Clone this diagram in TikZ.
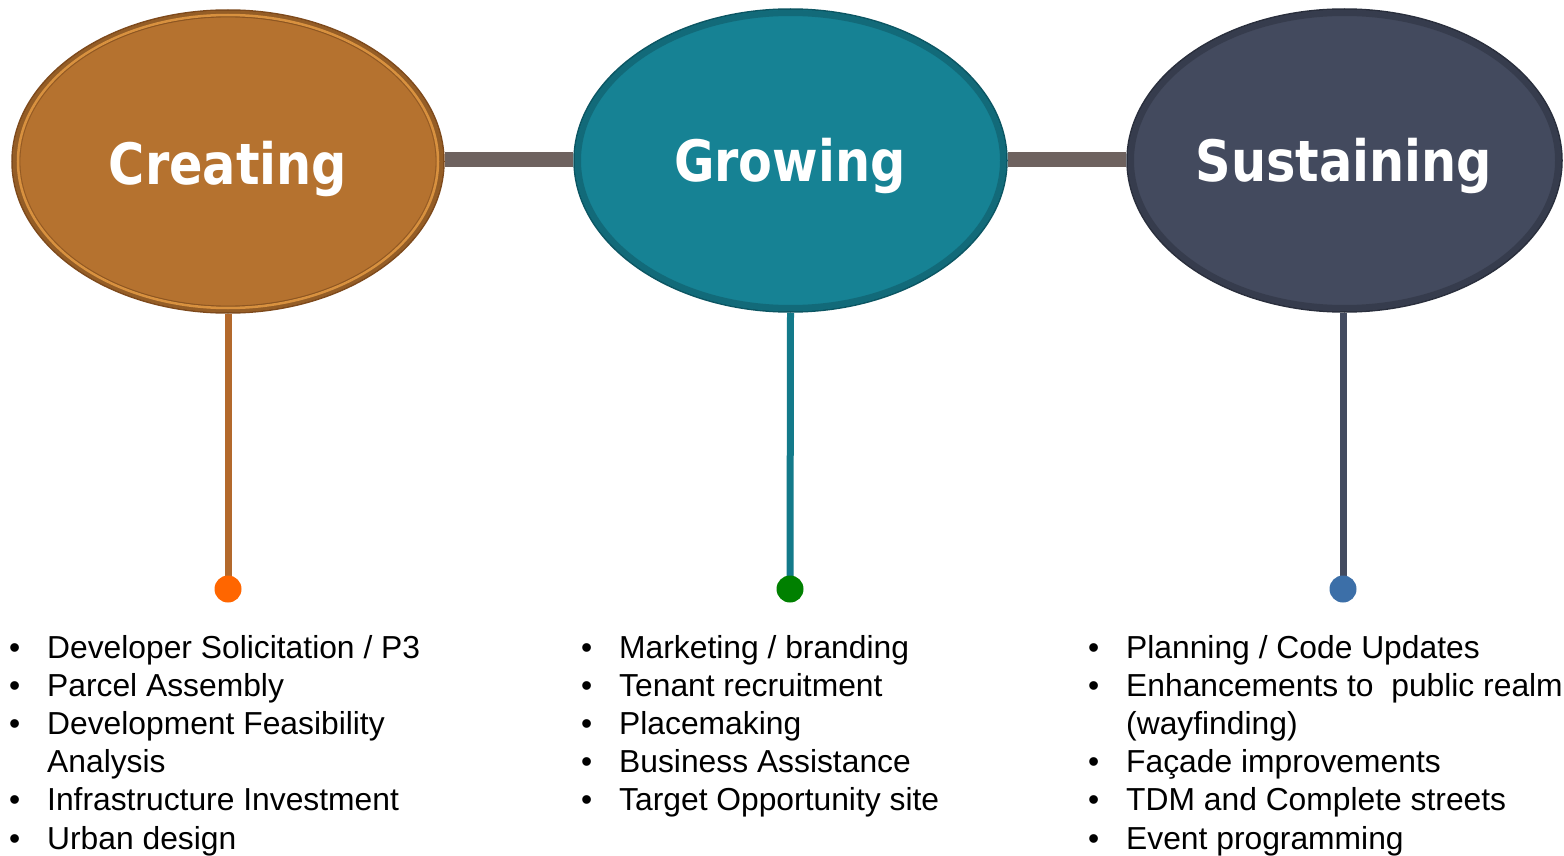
\documentclass[tikz,border=0pt]{standalone}
\usepackage{fontspec}
\usepackage{graphicx}
\setmainfont{Liberation Sans}
\newfontfamily\titlefont{DejaVu Sans}
\usetikzlibrary{shapes.geometric,backgrounds}
\definecolor{copper}{HTML}{B5722F}
\definecolor{copperdark}{HTML}{7E4A1C}
\definecolor{copperlight}{HTML}{D8913F}
\definecolor{teal}{HTML}{168294}
\definecolor{tealdark}{HTML}{0C5663}
\definecolor{slate}{HTML}{434A5E}
\definecolor{slatedark}{HTML}{2A2F3D}
\definecolor{barcol}{HTML}{6E625F}
\definecolor{linecopper}{HTML}{B3692C}
\definecolor{lineteal}{HTML}{137A8A}
\definecolor{lineslate}{HTML}{434B60}
\definecolor{dotorange}{HTML}{FF6600}
\definecolor{dotgreen}{HTML}{008000}
\definecolor{dotblue}{HTML}{3C6FA8}
\tikzset{
  phase/.style={ellipse, minimum width=432pt, minimum height=303pt, inner sep=0pt, line width=1.5pt},
  phasetitle/.style={anchor=base, text=white, inner sep=0pt, font=\titlefont\bfseries\fontsize{57}{60}\selectfont},
  bar/.style={line width=15pt, color=barcol},
  stem/.style={line width=7pt},
  enddot/.style={circle, minimum size=27pt, inner sep=0pt},
  rim/.style={line width=12pt, black, opacity=0.18},
  bullets/.style={anchor=base west, inner sep=0pt, align=left, font=\fontsize{31.8}{38.2}\selectfont}
}
\newcommand{\ttl}[1]{\scalebox{0.866}[1]{#1}}
\begin{document}
\begin{tikzpicture}[x=1pt,y=-1pt]
\useasboundingbox (0,0) rectangle (1564,856);
% ellipses
\node[phase, fill=copper, draw=copperdark] (c) at (228,161.5) {};
\begin{scope}
\clip (228,161.5) ellipse [x radius=215, y radius=150.5];
\draw[rim] (228,161.5) ellipse [x radius=215, y radius=150.5];
\end{scope}
\draw[copperlight, line width=2.5pt] (228,161.5) ellipse [x radius=210, y radius=146.5];
\draw[copperdark, line width=0.8pt, opacity=0.6] (228,161.5) ellipse [x radius=208, y radius=144.5];
\node[phase, fill=teal, draw=tealdark, minimum width=433pt] (g) at (790.5,160.5) {};
\begin{scope}
\clip (790.5,160.5) ellipse [x radius=215.5, y radius=150.5];
\draw[rim] (790.5,160.5) ellipse [x radius=215.5, y radius=150.5];
\end{scope}
\node[phase, fill=slate, draw=slatedark, minimum width=435pt] (s) at (1344.5,160.5) {};
\begin{scope}
\clip (1344.5,160.5) ellipse [x radius=216.5, y radius=150.5];
\draw[rim] (1344.5,160.5) ellipse [x radius=216.5, y radius=150.5];
\end{scope}
% titles
\node[phasetitle] (ct) at (228,184) {\ttl{Creating}};
\node[phasetitle] (gt) at (790,182) {\ttl{Growing}};
\node[phasetitle] (st) at (1344,182) {\ttl{Sustaining}};
% bars between
\begin{scope}[on background layer]
\draw[bar] ([yshift=2pt]c.east) -- ([yshift=1pt]g.west);
\draw[bar] ([yshift=1pt]g.east) -- ([yshift=1pt]s.west);
\end{scope}
% dots
\node[enddot, fill=dotorange] (cd) at (228,589) {};
\node[enddot, fill=dotgreen] (gd) at (790,589) {};
\node[enddot, fill=dotblue] (sd) at (1343,589) {};
% stems
\begin{scope}[on background layer]
\draw[stem, linecopper] (c.south) -- (cd.center);
\draw[stem, lineteal] (g.south) -- (gd.center);
\draw[stem, lineslate] ([xshift=-1.5pt]s.south) -- (sd.center);
\end{scope}
% bullet lists
\node[bullets] (cl) at (9,658) {\begin{tabular}[t]{@{}p{38pt}@{}l@{}}
\textbullet & Developer Solicitation / P3\\
\textbullet & Parcel Assembly\\
\textbullet & Development Feasibility\\
 & Analysis\\
\textbullet & Infrastructure Investment\\
\textbullet & Urban design
\end{tabular}};
\node[bullets] (gl) at (581,658) {\begin{tabular}[t]{@{}p{38pt}@{}l@{}}
\textbullet & Marketing / branding\\
\textbullet & Tenant recruitment\\
\textbullet & Placemaking\\
\textbullet & Business Assistance\\
\textbullet & Target Opportunity site
\end{tabular}};
\node[bullets] (sl) at (1088,658) {\begin{tabular}[t]{@{}p{38pt}@{}l@{}}
\textbullet & Planning / Code Updates\\
\textbullet & Enhancements to\ \ public realm\\
 & (wayfinding)\\
\textbullet & Façade improvements\\
\textbullet & TDM and Complete streets\\
\textbullet & Event programming
\end{tabular}};
\end{tikzpicture}
\end{document}
